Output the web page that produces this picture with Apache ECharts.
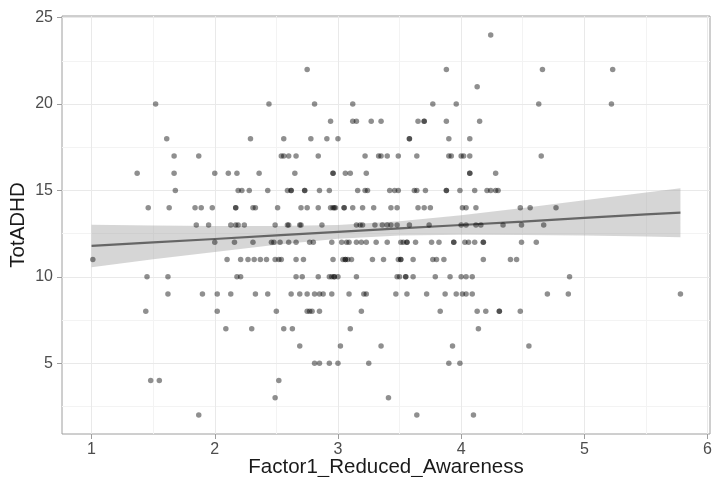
<!DOCTYPE html>
<html>
<head>
<meta charset="utf-8">
<script src="https://cdn.jsdelivr.net/npm/echarts@6/dist/echarts.min.js"></script>
<style>
html,body{margin:0;padding:0;background:#fff;}
#chart{width:714px;height:477px;}
</style>
</head>
<body>
<div id="chart"></div>
<script>
// TotADHD levels and the Factor1_Reduced_Awareness values observed at each level
const yLevels = [24, 22, 21, 20, 19, 18, 17, 16, 15, 14, 13, 12, 11, 10, 9, 8, 7, 6, 5, 4, 3, 2];
const xByLevel = [
  [4.24],
  [2.75, 3.88, 4.66, 5.23],
  [4.13],
  [1.52, 2.44, 2.81, 3.12, 3.77, 3.96, 4.63, 5.22],
  [2.94, 3.12, 3.15, 3.27, 3.35, 3.65, 3.70, 3.70, 3.88, 4.15],
  [1.61, 2.29, 2.56, 2.78, 2.91, 3.00, 3.58, 3.58, 3.90, 4.07],
  [1.67, 1.87, 2.54, 2.56, 2.60, 2.66, 2.84, 3.22, 3.33, 3.35, 3.40, 3.49, 3.64, 3.90, 3.92, 4.00, 4.02, 4.07, 4.65],
  [1.37, 1.67, 2.00, 2.11, 2.18, 2.36, 2.65, 2.96, 2.96, 3.06, 3.10, 3.23, 4.07, 4.07, 4.28],
  [1.68, 2.19, 2.22, 2.28, 2.43, 2.59, 2.62, 2.62, 2.73, 2.73, 2.85, 2.93, 3.16, 3.22, 3.24, 3.42, 3.46, 3.49, 3.62, 3.64, 3.71, 3.88, 3.88, 3.99, 4.11, 4.21, 4.24, 4.28, 4.30],
  [1.46, 1.63, 1.84, 1.89, 1.98, 2.17, 2.17, 2.31, 2.33, 2.51, 2.70, 2.75, 2.84, 2.94, 2.96, 2.97, 2.98, 3.05, 3.05, 3.12, 3.20, 3.29, 3.43, 3.48, 3.65, 3.70, 3.75, 4.01, 4.04, 4.12, 4.48, 4.56, 4.77],
  [1.85, 1.95, 2.13, 2.17, 2.19, 2.24, 2.49, 2.59, 2.60, 2.69, 2.70, 2.87, 3.15, 3.18, 3.20, 3.30, 3.36, 3.40, 3.43, 3.48, 3.58, 3.74, 4.00, 4.04, 4.12, 4.16, 4.34, 4.49, 4.67],
  [2.00, 2.16, 2.31, 2.46, 2.48, 2.53, 2.60, 2.66, 2.77, 2.80, 2.95, 3.03, 3.07, 3.09, 3.15, 3.19, 3.23, 3.31, 3.40, 3.51, 3.53, 3.56, 3.56, 3.63, 3.76, 3.82, 3.94, 3.94, 4.03, 4.06, 4.11, 4.18, 4.18, 4.49, 4.61],
  [1.01, 2.10, 2.21, 2.27, 2.32, 2.37, 2.42, 2.49, 2.52, 2.54, 2.66, 2.72, 2.96, 3.04, 3.06, 3.06, 3.08, 3.11, 3.28, 3.37, 3.49, 3.51, 3.51, 3.61, 3.77, 3.80, 3.86, 4.18, 4.40, 4.45],
  [1.45, 1.62, 2.18, 2.21, 2.66, 2.71, 2.84, 2.93, 2.95, 2.97, 2.97, 3.00, 3.15, 3.48, 3.50, 3.55, 3.55, 3.61, 3.79, 3.91, 4.00, 4.04, 4.09, 4.88],
  [1.62, 1.90, 2.02, 2.13, 2.33, 2.43, 2.62, 2.69, 2.75, 2.81, 2.85, 2.88, 2.95, 3.09, 3.21, 3.23, 3.47, 3.56, 3.72, 3.87, 3.96, 4.01, 4.04, 4.09, 4.70, 4.87, 5.78],
  [1.44, 2.02, 2.50, 2.75, 2.77, 2.79, 2.85, 3.19, 3.83, 4.13, 4.20, 4.31, 4.31, 4.48],
  [2.09, 2.30, 2.56, 2.63, 3.10, 4.14],
  [2.69, 3.02, 3.35, 3.93, 4.55],
  [2.81, 2.85, 2.93, 3.00, 3.25, 3.90, 3.99],
  [1.48, 1.55, 2.52],
  [2.49, 3.41],
  [1.87, 3.64, 4.10]
];

// Fitted line and its confidence band
const fitX     = [1.0, 1.5, 2.0, 2.5, 3.0, 3.5, 4.0, 4.5, 5.0, 5.5, 5.78];
const fitY     = [11.79, 11.99, 12.19, 12.40, 12.60, 12.80, 13.00, 13.20, 13.41, 13.61, 13.72];
const bandLow  = [10.56, 11.01, 11.44, 11.86, 12.20, 12.39, 12.43, 12.42, 12.39, 12.34, 12.29];
const bandHigh = [13.02, 12.97, 12.94, 12.94, 13.00, 13.21, 13.57, 13.98, 14.43, 14.88, 15.13];

// Axis ticks
const xTicks = [1, 2, 3, 4, 5, 6];
const yTicks = [5, 10, 15, 20, 25];
const xMinor = [1.5, 2.5, 3.5, 4.5, 5.5];
const yMinor = [2.5, 7.5, 12.5, 17.5, 22.5];

const scatterData = [];
yLevels.forEach((lv, i) => xByLevel[i].forEach(x => scatterData.push([x, lv])));
const fitData = fitX.map((x, i) => [x, fitY[i]]);

const FONT = '"Liberation Sans", Arial, sans-serif';
const chart = echarts.init(document.getElementById('chart'), null, {renderer: 'canvas'});

function gridLines(vals, key, color) {
  return vals.map(v => ({[key]: v, lineStyle: {color: color, width: 1, type: 'solid'}}));
}

chart.setOption({
  animation: false,
  backgroundColor: '#ffffff',
  grid: {left: 62, right: 4, top: 16, bottom: 43, containLabel: false, outerBoundsMode: 'none',
         show: true, borderColor: '#9e9e9e', borderWidth: 1, backgroundColor: 'transparent', z: 0},
  xAxis: {
    type: 'value', min: 0.76, max: 6.02,
    name: 'Factor1_Reduced_Awareness', nameLocation: 'middle', nameGap: 23, nameMoveOverlap: false,
    nameTextStyle: {fontFamily: FONT, fontSize: 20.5, color: '#1a1a1a'},
    axisLine: {show: false},
    axisTick: {show: true, length: 5, lineStyle: {color: '#9e9e9e'}, customValues: xTicks},
    axisLabel: {fontFamily: FONT, fontSize: 16, color: '#4d4d4d', margin: 8, customValues: xTicks},
    splitLine: {show: false}
  },
  yAxis: {
    type: 'value', min: 0.9, max: 25.1,
    name: 'TotADHD', nameLocation: 'middle', nameGap: 33, nameRotate: 90, nameMoveOverlap: false,
    nameTextStyle: {fontFamily: FONT, fontSize: 20.5, color: '#1a1a1a'},
    axisLine: {show: false},
    axisTick: {show: true, length: 5, lineStyle: {color: '#9e9e9e'}, customValues: yTicks},
    axisLabel: {fontFamily: FONT, fontSize: 16, color: '#4d4d4d', margin: 9, customValues: yTicks},
    splitLine: {show: false}
  },
  series: [
    {
      type: 'line', data: [], z: 0, silent: true,
      markLine: {
        z: 0, silent: true, symbol: ['none', 'none'], label: {show: false}, animation: false,
        emphasis: {disabled: true},
        data: [].concat(
          gridLines(xMinor, 'xAxis', '#f3f3f3'),
          gridLines(yMinor, 'yAxis', '#f3f3f3'),
          gridLines(xTicks, 'xAxis', '#e9e9e9'),
          gridLines(yTicks, 'yAxis', '#e9e9e9')
        )
      }
    },
    {
      type: 'custom', z: 1, silent: true,
      data: [[fitX[0], fitY[0]]],
      renderItem: function (params, api) {
        const pts = [];
        for (let i = 0; i < fitX.length; i++) pts.push(api.coord([fitX[i], bandHigh[i]]));
        for (let i = fitX.length - 1; i >= 0; i--) pts.push(api.coord([fitX[i], bandLow[i]]));
        return {type: 'polygon', shape: {points: pts}, style: {fill: 'rgba(153,153,153,0.4)'}};
      }
    },
    {
      type: 'line', z: 2, data: fitData, symbol: 'none', silent: true,
      lineStyle: {color: '#666666', width: 2.2}
    },
    {
      type: 'scatter', z: 3, data: scatterData, symbolSize: 5.5, silent: true,
      itemStyle: {color: 'rgba(0,0,0,0.55)'}
    }
  ]
});
</script>
</body>
</html>
